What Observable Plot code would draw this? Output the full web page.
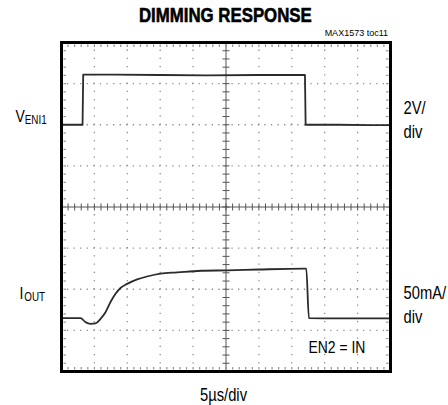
<!DOCTYPE html>
<html>
<head>
<meta charset="utf-8">
<script src="https://cdn.jsdelivr.net/npm/d3@7"></script>
<script src="https://cdn.jsdelivr.net/npm/@observablehq/plot@0.6"></script>
<style>
  html, body { margin: 0; padding: 0; background: #fff; }
  body { width: 448px; height: 405px; overflow: hidden; font-family: "Liberation Sans", Arial, sans-serif; }
  #head { position: relative; width: 448px; height: 38px; }
  #title { position: absolute; left: 0; width: 451px; top: 5px; line-height: 20px; text-align: center; }
  #title span { display: inline-block; font-weight: bold; font-size: 20.5px; color: #000; transform: scaleX(0.82); transform-origin: 50% 50%; -webkit-text-stroke: 0.6px #000; white-space: nowrap; }
  #note { position: absolute; right: 60px; top: 29px; line-height: 9px; font-family: "Liberation Sans", Arial, sans-serif; font-size: 9px; color: #000; }
  #chart svg { display: block; }
</style>
</head>
<body>
<div id="head">
  <div id="title"><span></span></div>
  <div id="note"></div>
</div>
<div id="chart"></div>
<script>
// ---- text ----
const titleText = "DIMMING RESPONSE";
const noteText = "MAX1573 toc11";
const timeScaleLabel = ["5\u00b5s/div"];
const conditionLabel = ["EN2 = IN"];

// ---- channels ----
const channelSymbols = ["V", "I"];
const channelSubscripts = ["ENI1", "OUT"];
const channelScales = ["2V/", "50mA/"];
const channelScaleUnit = "div";
const channelLabelLevel = [2.2, -2.1];   // label height, in vertical divisions

// ---- screen: 10 x 5us horizontally, 8 divisions vertically ----
const timeDomain = [0, 50];   // microseconds
const divDomain = [-4, 4];    // vertical divisions
const majorTimes = [5, 10, 15, 20, 30, 35, 40, 45];
const majorDivs = [-3, -2, -1, 1, 2, 3];

// ---- trace 1: V_ENI1 (divisions) ----
const venTime = [0, 3.2, 3.3, 8, 15, 22, 30, 37.0, 37.1, 42, 47, 50];
const venDiv  = [2.0, 2.0, 3.22, 3.22, 3.21, 3.20, 3.21, 3.21, 2.0, 2.0, 1.99, 1.99];

// ---- trace 2: I_OUT (divisions) ----
const ioutTime = [0, 2.89, 3.65, 4.41, 5.17, 5.93, 6.69, 7.45, 8.21, 8.97, 9.98, 11.5, 13.0, 15.05, 17.6, 21.2, 25.2, 30, 36.9, 37.2, 37.6, 42, 50];
const ioutDiv  = [-2.70, -2.70, -2.80, -2.84, -2.83, -2.72, -2.56, -2.31, -2.11, -1.97, -1.87, -1.76, -1.69, -1.62, -1.59, -1.55, -1.54, -1.52, -1.50, -1.50, -2.70, -2.71, -2.71];

document.querySelector("#title span").textContent = titleText;
document.getElementById("note").textContent = noteText;

const ven = venTime.map((t, i) => ({t, v: venDiv[i]}));
const iout = ioutTime.map((t, i) => ({t, v: ioutDiv[i]}));
const channels = channelSymbols.map((s, i) => ({sym: s, sub: channelSubscripts[i], scale: channelScales[i], level: channelLabelLevel[i]}));

// minor graticule ticks at 1/5 division
const minorTimes = d3.range(timeDomain[0], timeDomain[1] + 0.001, 1);
const minorDivs = d3.range(divDomain[0], divDomain[1] + 0.001, 0.2);

// custom tick symbols
const vTick = {draw(ctx, size) { const h = Math.sqrt(size / Math.PI); ctx.moveTo(0, -h); ctx.lineTo(0, h); }};
const hTick = {draw(ctx, size) { const h = Math.sqrt(size / Math.PI); ctx.moveTo(-h, 0); ctx.lineTo(h, 0); }};

const FONT = "Liberation Sans, Arial, sans-serif";
const gridColor = "#8f8f8f";
const axisColor = "#555";
const traceColor = "#2b2b2b";

const plot = Plot.plot({
  width: 448,
  height: 367,
  marginLeft: 61,
  marginRight: 58,
  marginTop: 4,
  marginBottom: 34,
  style: {fontFamily: FONT, background: "#fff", color: "#000"},
  x: {domain: timeDomain, axis: null},
  y: {domain: divDomain, axis: null},
  marks: [
    // dotted graticule
    Plot.ruleX(majorTimes, {stroke: gridColor, strokeWidth: 1.3, strokeDasharray: "1.3,6.925", strokeDashoffset: 0.65}),
    Plot.ruleY(majorDivs, {stroke: gridColor, strokeWidth: 1.3, strokeDasharray: "1.3,5.28", strokeDashoffset: 0.65}),
    // centre crosshair
    Plot.ruleX([25], {stroke: axisColor, strokeWidth: 1}),
    Plot.ruleY([0], {stroke: axisColor, strokeWidth: 1}),
    Plot.dot(minorTimes, {x: d => d, frameAnchor: "middle", symbol: vTick, r: 3.5, stroke: axisColor, strokeWidth: 1}),
    Plot.dot(minorDivs, {y: d => d, frameAnchor: "middle", symbol: hTick, r: 3.5, stroke: axisColor, strokeWidth: 1}),
    // edge ticks
    Plot.dot(minorTimes, {x: d => d, frameAnchor: "top", dy: 3.2, symbol: vTick, r: 1.2, stroke: gridColor, strokeWidth: 1.2}),
    Plot.dot(minorTimes, {x: d => d, frameAnchor: "bottom", dy: -3.2, symbol: vTick, r: 1.2, stroke: gridColor, strokeWidth: 1.2}),
    Plot.dot(minorDivs, {y: d => d, frameAnchor: "left", dx: 3.2, symbol: hTick, r: 1.2, stroke: gridColor, strokeWidth: 1.2}),
    Plot.dot(minorDivs, {y: d => d, frameAnchor: "right", dx: -3.2, symbol: hTick, r: 1.2, stroke: gridColor, strokeWidth: 1.2}),
    // traces
    Plot.line(ven, {x: "t", y: "v", stroke: traceColor, strokeWidth: 1.8, curve: "linear"}),
    Plot.line(iout, {x: "t", y: "v", stroke: traceColor, strokeWidth: 1.8, curve: "monotone-x"}),
    // frame
    Plot.frame({stroke: "#000", strokeWidth: 3}),
    // channel names (left)
    Plot.text(channels.slice(0, 1), {y: "level", text: "sym", frameAnchor: "left", textAnchor: "start", dx: -46, fontSize: 17, fill: "#000"}),
    Plot.text(channels.slice(0, 1), {y: "level", text: "sub", frameAnchor: "left", textAnchor: "start", dx: -36.7, dy: 3.2, fontSize: 12, fill: "#000"}),
    Plot.text(channels.slice(1, 2), {y: "level", text: "sym", frameAnchor: "left", textAnchor: "start", dx: -42, fontSize: 17, fill: "#000"}),
    Plot.text(channels.slice(1, 2), {y: "level", text: "sub", frameAnchor: "left", textAnchor: "start", dx: -37.2, dy: 3.3, fontSize: 12, fill: "#000"}),
    // channel scales (right)
    Plot.text(channels.slice(0, 1), {y: "level", text: "scale", frameAnchor: "right", textAnchor: "start", dx: 13, dy: -8.8, fontSize: 18, fill: "#000"}),
    Plot.text(channels.slice(0, 1), {y: "level", text: () => channelScaleUnit, frameAnchor: "right", textAnchor: "start", dx: 13, dy: 15.2, fontSize: 18, fill: "#000"}),
    Plot.text(channels.slice(1, 2), {y: "level", text: "scale", frameAnchor: "right", textAnchor: "start", dx: 13, dy: 0.3, fontSize: 18, fill: "#000"}),
    Plot.text(channels.slice(1, 2), {y: "level", text: () => channelScaleUnit, frameAnchor: "right", textAnchor: "start", dx: 13, dy: 24.3, fontSize: 18, fill: "#000"}),
    // condition note inside screen
    Plot.text(conditionLabel, {frameAnchor: "bottom-right", textAnchor: "start", lineAnchor: "bottom", dx: -82, dy: -19, fontSize: 17, fill: "#000"}),
    // time base label
    Plot.text(timeScaleLabel, {frameAnchor: "bottom", textAnchor: "middle", lineAnchor: "bottom", dx: -2.5, dy: 29, fontSize: 18, fill: "#000"})
  ]
});
// condensed lettering (the reference uses a narrow face)
plot.querySelectorAll("text").forEach(t => {
  const tr = t.getAttribute("transform") || "";
  t.setAttribute("transform", (tr + " scale(0.82,1)").trim());
});
document.getElementById("chart").appendChild(plot);
</script>
</body>
</html>
